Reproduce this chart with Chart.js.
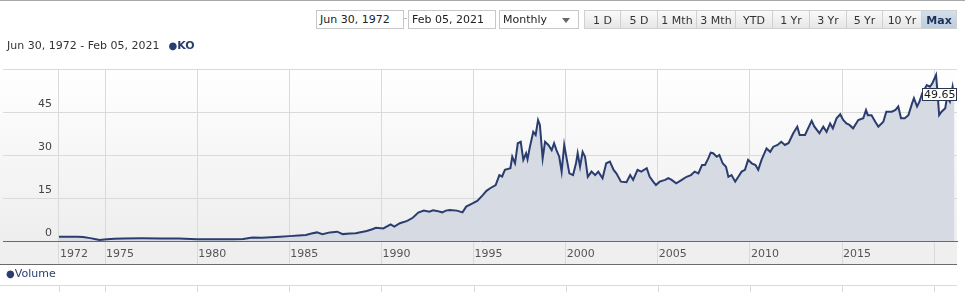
<!DOCTYPE html>
<html>
<head>
<meta charset="utf-8">
<script src="https://cdn.jsdelivr.net/npm/chart.js@4/dist/chart.umd.min.js"></script>
<style>
  html, body { margin:0; padding:0; background:#fff; }
  body { width:965px; height:292px; position:relative; overflow:hidden; font-family:"DejaVu Sans", Verdana, sans-serif; }
  #c { position:absolute; left:0; top:0; }
  .topline { position:absolute; left:0; top:0; width:965px; height:1px; background:#a9a9a9; }
  .box { position:absolute; top:10px; height:17px; border:1px solid #c8c8c8; background:#fff; font-size:11px; color:#222; line-height:17px; padding-left:3px; box-sizing:content-box; }
  .sep { position:absolute; left:404px; top:18px; width:3px; height:1px; background:#bbb; }
  .arrow { position:absolute; right:8px; top:7px; width:0; height:0; border-left:4px solid transparent; border-right:4px solid transparent; border-top:5px solid #666; }
  .btns { position:absolute; left:584px; top:10px; height:19px; display:flex; }
  .btn { height:19px; border:1px solid #d0d0d0; border-left:none; background:linear-gradient(#fafafa,#e6e6e6); font-size:11px; color:#333; text-align:center; line-height:19px; box-sizing:border-box; }
  .btn:first-child { border-left:1px solid #d0d0d0; }
  .btn.on { background:linear-gradient(#d3dfeb,#bccdde); font-weight:bold; color:#1e2f55; }
  .sub { position:absolute; left:7px; top:39px; font-size:11px; color:#333; white-space:nowrap; }
  .sub .dot { color:#2a3d6e; margin-left:9px; font-size:10px; }
  .sub b { color:#2a3d6e; }
  .vol { position:absolute; left:6px; top:267px; font-size:11px; color:#2a3d6e; white-space:nowrap; }
  .vol .dot { font-size:10px; }
</style>
</head>
<body>
<canvas id="c" width="965" height="292"></canvas>
<div class="topline"></div>
<div class="box" style="left:316px;width:83px;">Jun 30, 1972</div>
<div class="sep"></div>
<div class="box" style="left:408px;width:83px;">Feb 05, 2021</div>
<div class="box" style="left:499px;width:75px;">Monthly<div class="arrow"></div></div>
<div class="btns">
  <div class="btn" style="width:37px">1 D</div>
  <div class="btn" style="width:37px">5 D</div>
  <div class="btn" style="width:39px">1 Mth</div>
  <div class="btn" style="width:39px">3 Mth</div>
  <div class="btn" style="width:37px">YTD</div>
  <div class="btn" style="width:37px">1 Yr</div>
  <div class="btn" style="width:37px">3 Yr</div>
  <div class="btn" style="width:36px">5 Yr</div>
  <div class="btn" style="width:39px">10 Yr</div>
  <div class="btn on" style="width:35px">Max</div>
</div>
<div class="sub">Jun 30, 1972 - Feb 05, 2021<span class="dot">●</span><b>KO</b></div>
<div class="vol"><span class="dot">●</span>Volume</div>
<script>
// ---- data (decimal year, price) ----
const years = [
  1972.5,1973.0,1973.5,1973.8,1974.2,1974.5,1974.7,1975.1,1975.5,1976.0,1977.0,1978.0,1979.0,1980.0,1981.0,1982.0,1982.5,1983.0,1983.5,1984.0,1984.5,
  1985.0,1985.5,1985.9,1986.2,1986.5,1986.8,1987.2,1987.6,1987.9,1988.3,1988.6,1989.0,1989.2,1989.5,1989.7,
  1990.1,1990.5,1990.7,1991.0,1991.4,1991.7,1992.0,1992.3,1992.6,1992.8,1993.0,1993.3,1993.5,1993.7,1994.1,1994.4,1994.6,1994.97,
  1995.2,1995.5,1995.7,1995.9,1996.2,1996.4,1996.55,1996.7,1997.0,1997.1,1997.25,1997.4,1997.56,1997.7,1997.85,1997.93,
  1998.06,1998.24,1998.37,1998.5,1998.6,1998.75,1998.88,1999.06,1999.24,1999.37,1999.5,1999.65,1999.78,1999.92,
  2000.05,2000.2,2000.4,2000.56,2000.65,2000.78,2000.92,2001.05,2001.2,2001.4,2001.6,2001.77,2002.0,2002.2,2002.4,2002.6,2002.75,
  2003.0,2003.3,2003.5,2003.66,2003.9,2004.1,2004.4,2004.56,2004.75,2004.9,2005.1,2005.4,2005.57,2005.75,2006.0,2006.3,2006.56,2006.8,
  2007.0,2007.2,2007.4,2007.56,2007.74,2007.87,2008.0,2008.2,2008.34,2008.52,2008.7,2008.83,2009.0,2009.2,2009.37,2009.55,2009.73,2009.9,
  2010.1,2010.3,2010.45,2010.63,2010.9,2011.1,2011.27,2011.5,2011.7,2011.9,2012.1,2012.35,2012.57,2012.7,2012.99,
  2013.2,2013.35,2013.5,2013.77,2013.98,2014.16,2014.35,2014.5,2014.7,2014.9,2015.06,2015.24,2015.4,2015.6,2015.88,
  2016.15,2016.3,2016.4,2016.6,2016.8,2016.97,2017.24,2017.4,2017.7,2017.9,2018.05,2018.2,2018.4,2018.6,2018.8,2018.9,
  2019.07,2019.2,2019.35,2019.6,2019.77,2019.9,2020.1,2020.17,2020.27,2020.4,2020.6,2020.7,2020.85,2021.0,2021.1
];
const prices = [
  1.5,1.5,1.5,1.4,1.0,0.6,0.35,0.6,0.8,0.9,0.95,0.9,0.9,0.6,0.65,0.6,0.7,1.2,1.1,1.3,1.5,
  1.7,1.9,2.1,2.6,3.0,2.4,3.0,3.25,2.4,2.6,2.7,3.2,3.5,4.1,4.6,
  4.4,5.8,5.0,6.2,7.0,8.1,9.9,10.6,10.2,10.7,10.5,10.0,10.6,10.8,10.6,10.0,12.0,13.2,
  14.0,16.0,17.5,18.4,19.5,23.0,22.5,24.8,25.4,29.4,27.1,34.1,34.6,28.3,30.6,28.5,
  32.9,38.1,37.0,42.2,40.5,28.8,34.6,33.5,31.7,34.1,31.7,29.4,24.2,33.5,
  28.8,23.6,23.0,27.1,30.6,25.9,31.1,29.4,22.4,24.2,23.0,24.2,21.9,27.1,27.7,24.8,23.6,
  20.7,20.5,23.0,21.3,24.8,24.2,25.4,22.4,20.7,19.5,20.7,21.3,21.9,21.3,20.1,21.3,22.4,23.0,
  24.2,23.6,26.5,26.5,28.8,30.8,30.6,29.4,30.0,27.1,25.9,22.4,23.0,20.7,22.4,24.2,24.8,28.3,
  27.1,26.5,24.8,28.3,32.3,31.1,32.9,33.5,34.6,33.5,34.2,37.6,39.9,37.0,37.0,
  39.9,41.9,39.9,37.6,39.9,38.1,41.0,39.3,42.8,44.2,42.2,41.0,40.5,39.3,42.2,
  42.8,45.7,43.9,43.9,41.6,39.9,41.6,45.1,45.1,45.7,46.9,42.8,42.8,43.9,48.0,49.8,
  46.9,48.6,51.5,54.4,53.8,55.0,57.9,52.7,43.9,45.1,46.3,50.3,48.6,53.8,49.65
];
const tickYears  = [1972.5,1975,1980,1985,1990,1995,2000,2005,2010,2015,2020];
const tickLabels = ['1972','1975','1980','1985','1990','1995','2000','2005','2010','2015',''];
const yTicks = [0,15,30,45,60];
const yTickLabels = ['0','15','30','45',''];
const lastLabel = '49.65';

const LINE = '#2a3d6e';
const FILL = '#d5dae3';
const GRID = '#dadada';
const FONT = { family: '"DejaVu Sans", Verdana, sans-serif', size: 11 };

const bgPlugin = {
  id: 'bg',
  beforeDraw(chart) {
    const { ctx, chartArea: a } = chart;
    ctx.save();
    const g = ctx.createLinearGradient(0, a.top, 0, a.bottom);
    g.addColorStop(0, '#ffffff');
    g.addColorStop(1, '#eeeeee');
    ctx.fillStyle = g;
    ctx.fillRect(0, a.top, a.right, a.bottom - a.top);
    ctx.fillStyle = '#efefef';
    ctx.fillRect(0, a.bottom, a.right, 23);
    ctx.restore();
  },
  afterDraw(chart) {
    const { ctx, chartArea: a, scales } = chart;
    const xs = scales.x, ys = scales.y;
    ctx.save();
    // lower panel separator
    ctx.fillStyle = '#6a6a6a';
    ctx.fillRect(0, a.bottom + 23, a.right, 1);
    // volume panel grid
    ctx.fillStyle = GRID;
    ctx.fillRect(0, 285, a.right, 1);
    tickYears.forEach(v => {
      const px = Math.round(xs.getPixelForValue(v));
      ctx.fillRect(px, 286, 1, 8);
    });
    // last value tag
    const last = prices[prices.length - 1];
    const py = ys.getPixelForValue(last) - 4;
    ctx.font = '11px "DejaVu Sans", Verdana, sans-serif';
    const w = Math.ceil(ctx.measureText(lastLabel).width) + 3;
    const h = 13;
    const x0 = a.right - w;
    const y0 = Math.round(py - h / 2);
    ctx.fillStyle = '#ffffff';
    ctx.fillRect(x0, y0, w, h);
    ctx.strokeStyle = '#2a3550';
    ctx.lineWidth = 1;
    ctx.strokeRect(x0 + 0.5, y0 + 0.5, w - 1, h - 1);
    ctx.fillStyle = '#1a1a1a';
    ctx.textBaseline = 'middle';
    ctx.textAlign = 'left';
    ctx.fillText(lastLabel, x0 + 2, y0 + h / 2 + 0.5);
    ctx.restore();
  }
};

new Chart(document.getElementById('c'), {
  type: 'line',
  data: {
    datasets: [{
      data: years.map((y, i) => ({ x: y, y: prices[i] })),
      borderColor: LINE,
      borderWidth: 2,
      backgroundColor: FILL,
      fill: 'origin',
      pointRadius: 0,
      tension: 0
    }]
  },
  options: {
    responsive: false,
    animation: false,
    events: [],
    layout: { padding: { top: 69, left: 3, right: 8, bottom: 28 } },
    plugins: { legend: { display: false }, tooltip: { enabled: false } },
    scales: {
      x: {
        type: 'linear',
        min: 1969.461,
        max: 2021.238,
        afterBuildTicks(s) { s.ticks = tickYears.map(v => ({ value: v })); },
        afterFit(s) { s.height = 23; },
        grid: { color: GRID, lineWidth: 1, drawTicks: true, tickLength: 23, tickColor: GRID },
        border: { display: true, color: '#6a6a6a', width: 1 },
        ticks: {
          autoSkip: false, maxRotation: 0, align: 'start', padding: -16, labelOffset: 1,
          color: '#555', font: FONT,
          callback: (v, i) => tickLabels[i]
        }
      },
      y: {
        type: 'linear',
        min: 0,
        max: 60,
        afterBuildTicks(s) { s.ticks = yTicks.map(v => ({ value: v })); },
        afterFit(s) { s.width = 0; },
        grid: { color: GRID, lineWidth: 1, drawTicks: false },
        border: { display: false },
        ticks: {
          mirror: true, crossAlign: 'far', padding: 35, labelOffset: -8,
          color: '#444', font: FONT,
          callback: (v, i) => yTickLabels[i]
        }
      }
    }
  },
  plugins: [bgPlugin]
});
</script>
</body>
</html>
